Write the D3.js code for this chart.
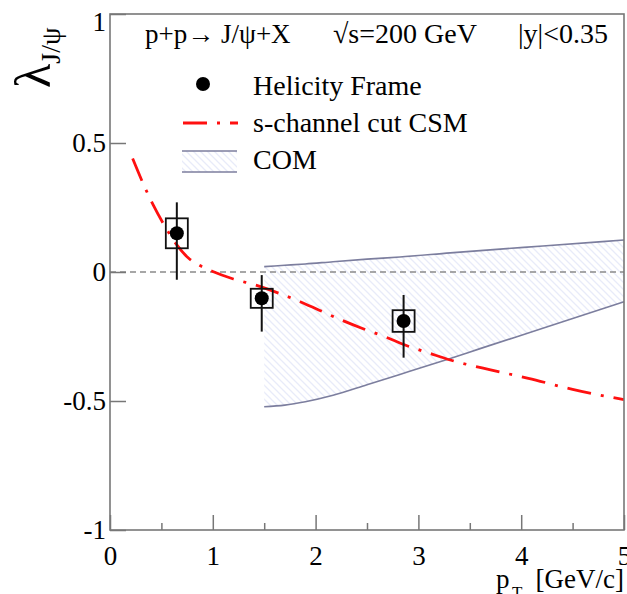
<!DOCTYPE html>
<html lang="en">
<head>
<meta charset="utf-8">
<title>J/psi polarization</title>
<script src="https://cdn.jsdelivr.net/npm/d3@7"></script>
<style>
	body{
		margin: 0px;
		overflow: hidden;
		background: #fff;
	}
	text{
		font-family: "Liberation Serif", "Times New Roman", serif;
		fill: #000;
	}
</style>
</head>
<body>
<script>
// measured points (helicity frame)
const pointX = [0.65, 1.476, 2.856];
const pointY = [0.15, -0.102, -0.19];
const statLo = [-0.03, -0.231, -0.332];
const statHi = [0.27, -0.012, -0.089];
const sysHalf = [0.058, 0.037, 0.042];
const boxHalfW = 0.107;

// s-channel cut CSM curve
const csmX = [0.22, 0.32, 0.42, 0.53, 0.65, 0.76, 0.875, 1.0, 1.2, 1.41, 1.6, 1.85, 2.03, 2.25, 2.45, 2.675, 2.87, 3.11, 3.31, 3.63, 4.07, 4.5, 5.0];
const csmY = [0.44, 0.345, 0.26, 0.18, 0.105, 0.055, 0.025, 0.002, -0.027, -0.05, -0.076, -0.115, -0.147, -0.186, -0.218, -0.251, -0.283, -0.315, -0.341, -0.373, -0.412, -0.455, -0.495];

// COM band
const comX = [1.5, 1.7, 1.9, 2.17, 2.5, 2.82, 3.31, 3.6, 4.21, 5.0];
const comHi = [0.021, 0.026, 0.031, 0.04, 0.05, 0.058, 0.074, 0.083, 0.101, 0.124];
const comLo = [-0.522, -0.516, -0.503, -0.478, -0.437, -0.397, -0.335, -0.297, -0.218, -0.115];

const xTicks = [0, 1, 2, 3, 4, 5];
const xMinor = [0.5, 1.5, 2.5, 3.5, 4.5];
const yTicks = [-1, -0.5, 0, 0.5, 1];
const yTickLabels = ["-1", "-0.5", "0", "0.5", "1"];

const width = 627, height = 594;
const margin = {top: 14, right: 3, bottom: 64, left: 110};
const innerWidth = width - margin.left - margin.right;
const innerHeight = height - margin.top - margin.bottom;

const svg = d3.select("body").append("svg")
	.attr("width", width)
	.attr("height", height);

const defs = svg.append("defs");
const hatch = defs.append("pattern")
	.attr("id", "hatch")
	.attr("patternUnits", "userSpaceOnUse")
	.attr("width", 7)
	.attr("height", 7);
hatch.append("path")
	.attr("d", "M0,0L7,7M-1,6L1,8M6,-1L8,1")
	.attr("stroke", "#e8ebf9")
	.attr("stroke-width", 1.3);

const xScale = d3.scaleLinear().domain([0, 5]).range([0, innerWidth]);
const yScale = d3.scaleLinear().domain([-1, 1]).range([innerHeight, 0]);

const g = svg.append("g")
	.attr("transform", `translate(${margin.left},${margin.top})`);

// COM band
const band = comX.map((x, i) => ({x: x, lo: comLo[i], hi: comHi[i]}));
g.append("path")
	.attr("d", d3.area()
		.x(d => xScale(d.x))
		.y0(d => yScale(d.lo))
		.y1(d => yScale(d.hi))
		.curve(d3.curveMonotoneX)(band))
	.attr("fill", "url(#hatch)");
["hi", "lo"].forEach(k => {
	g.append("path")
		.attr("d", d3.line()
			.x(d => xScale(d.x))
			.y(d => yScale(d[k]))
			.curve(d3.curveMonotoneX)(band))
		.attr("fill", "none")
		.attr("stroke", "#7c7e9e")
		.attr("stroke-width", 1.6);
});

// zero line
g.append("line")
	.attr("x1", xScale(0)).attr("x2", xScale(5))
	.attr("y1", yScale(0)).attr("y2", yScale(0))
	.attr("stroke", "#8a8a8a")
	.attr("stroke-width", 1.5)
	.attr("stroke-dasharray", "6,4");

// CSM curve
const csm = csmX.map((x, i) => ({x: x, y: csmY[i]}));
g.append("path")
	.attr("d", d3.line()
		.x(d => xScale(d.x))
		.y(d => yScale(d.y))
		.curve(d3.curveMonotoneX)(csm))
	.attr("fill", "none")
	.attr("stroke", "#ff1010")
	.attr("stroke-width", 2.8)
	.attr("stroke-dasharray", "24,10,3,10");

// data points
const pts = pointX.map((x, i) => ({x: x, y: pointY[i], lo: statLo[i], hi: statHi[i], s: sysHalf[i]}));
const pg = g.selectAll(".pt").data(pts).enter().append("g").attr("class", "pt");
pg.append("line")
	.attr("x1", d => xScale(d.x)).attr("x2", d => xScale(d.x))
	.attr("y1", d => yScale(d.lo)).attr("y2", d => yScale(d.hi))
	.attr("stroke", "#111")
	.attr("stroke-width", 2);
pg.append("rect")
	.attr("x", d => xScale(d.x - boxHalfW))
	.attr("y", d => yScale(d.y + d.s))
	.attr("width", d => xScale(d.x + boxHalfW) - xScale(d.x - boxHalfW))
	.attr("height", d => yScale(d.y - d.s) - yScale(d.y + d.s))
	.attr("fill", "none")
	.attr("stroke", "#111")
	.attr("stroke-width", 1.8);
pg.append("circle")
	.attr("cx", d => xScale(d.x))
	.attr("cy", d => yScale(d.y))
	.attr("r", 7)
	.attr("fill", "#000");

// axes
const xAxis = d3.axisBottom(xScale).tickValues(xTicks).tickSize(-15).tickPadding(16).tickFormat(d3.format("d"));
const xAxisG = g.append("g").attr("transform", `translate(0,${innerHeight})`).call(xAxis);
const xMinorG = g.append("g").attr("transform", `translate(0,${innerHeight})`)
	.call(d3.axisBottom(xScale).tickValues(xMinor).tickSize(-7).tickFormat(""));

const yAxis = d3.axisLeft(yScale).tickValues(yTicks).tickSize(-16).tickPadding(4)
	.tickFormat((d, i) => yTickLabels[i]);
const yAxisG = g.append("g").call(yAxis);

[xAxisG, xMinorG, yAxisG].forEach(a => {
	a.selectAll(".domain").remove();
	a.selectAll(".tick line").attr("stroke", "#777").attr("stroke-width", 1.5);
	a.selectAll(".tick text")
		.attr("font-family", "Liberation Serif, serif")
		.attr("font-size", 27)
		.attr("fill", "#000");
});
yAxisG.selectAll(".tick").filter(d => d === 1).select("text").attr("dy", "0.6em");

// frame
g.append("rect")
	.attr("width", innerWidth)
	.attr("height", innerHeight)
	.attr("fill", "none")
	.attr("stroke", "#777")
	.attr("stroke-width", 1.6);

// axis titles
const ylab = svg.append("text")
	.attr("transform", "translate(50,88) rotate(-90)");
ylab.append("tspan").attr("font-size", 50).text("λ");
ylab.append("tspan").attr("font-size", 28).attr("dy", 10).text("J/ψ");

svg.append("text").attr("x", 496).attr("y", 588).attr("font-size", 27).text("p");
svg.append("text").attr("x", 512).attr("y", 598).attr("font-size", 17).text("T");
svg.append("text").attr("x", 624).attr("y", 588).attr("font-size", 27)
	.attr("text-anchor", "end").text("[GeV/c]");

// header
svg.append("text").attr("x", 145).attr("y", 43).attr("font-size", 27).text("p+p→ J/ψ+X");
svg.append("text").attr("x", 333).attr("y", 43).attr("font-size", 28).text("√s=200 GeV");
svg.append("text").attr("x", 518).attr("y", 43).attr("font-size", 28).text("|y|<0.35");

// legend
svg.append("circle").attr("cx", 203).attr("cy", 84).attr("r", 7).attr("fill", "#000");
svg.append("text").attr("x", 253).attr("y", 95).attr("font-size", 28).text("Helicity Frame");

svg.append("line").attr("x1", 183).attr("x2", 238).attr("y1", 123).attr("y2", 123)
	.attr("stroke", "#ff1010").attr("stroke-width", 2.8).attr("stroke-dasharray", "24,10,3,10");
svg.append("text").attr("x", 253).attr("y", 132).attr("font-size", 28).text("s-channel cut CSM");

svg.append("rect").attr("x", 182).attr("y", 151).attr("width", 55).attr("height", 21)
	.attr("fill", "url(#hatch)");
[151, 172].forEach(y => {
	svg.append("line").attr("x1", 182).attr("x2", 237).attr("y1", y).attr("y2", y)
		.attr("stroke", "#7c7e9e").attr("stroke-width", 1.6);
});
svg.append("text").attr("x", 253).attr("y", 169).attr("font-size", 28).text("COM");
</script>
</body>
</html>
